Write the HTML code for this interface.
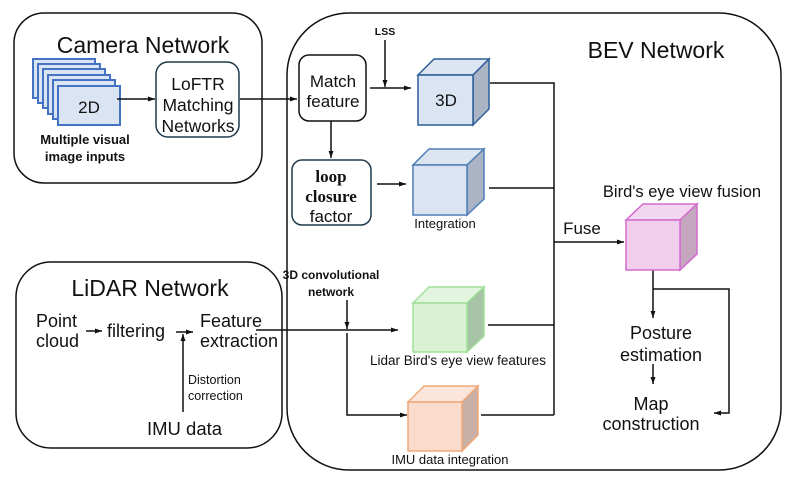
<!DOCTYPE html>
<html><head><meta charset="utf-8"><style>
html,body{margin:0;padding:0;background:#fff}
svg{display:block}
text{font-family:"Liberation Sans","DejaVu Sans",sans-serif;fill:#111}
</style></head><body>
<svg width="794" height="481" viewBox="0 0 794 481" xmlns="http://www.w3.org/2000/svg">
<defs>
<marker id="a" markerWidth="8" markerHeight="8" refX="7" refY="4" orient="auto" markerUnits="userSpaceOnUse">
<path d="M0,1.5 L7,4 L0,6.5 Z" fill="#111"/></marker>
</defs>
<rect x="14" y="13" width="248" height="170" rx="30" fill="none" stroke="#111" stroke-width="1.5"/>
<rect x="16" y="262" width="266" height="186" rx="35" fill="none" stroke="#111" stroke-width="1.5"/>
<rect x="287" y="13" width="494" height="457" rx="62" fill="none" stroke="#111" stroke-width="1.5"/>

<text x="143" y="53" font-size="23" text-anchor="middle">Camera Network</text>
<text x="150" y="296" font-size="23" text-anchor="middle">LiDAR Network</text>
<text x="656" y="58" font-size="23" text-anchor="middle">BEV Network</text>

<g fill="#dbe4f3" stroke="#4472c4" stroke-width="2">
<rect x="33" y="59" width="62" height="39"/>
<rect x="38" y="64" width="62" height="39"/>
<rect x="43" y="69" width="62" height="39"/>
<rect x="48" y="75" width="62" height="39"/>
<rect x="53" y="80" width="62" height="39"/>
<rect x="58" y="86" width="62" height="39"/>
</g>
<text x="89" y="113" font-size="17" text-anchor="middle">2D</text>
<text x="85" y="144" font-size="13" font-weight="bold" text-anchor="middle">Multiple visual</text>
<text x="85" y="161" font-size="13" font-weight="bold" text-anchor="middle">image inputs</text>

<rect x="156" y="62" width="83" height="75" rx="12" fill="none" stroke="#1f3b4d" stroke-width="1.5"/>
<text x="198" y="90" font-size="17.5" text-anchor="middle">LoFTR</text>
<text x="198" y="111" font-size="17.5" text-anchor="middle">Matching</text>
<text x="198" y="132" font-size="17.5" text-anchor="middle">Networks</text>

<g stroke="#111" stroke-width="1.5" fill="none">
<line x1="117" y1="99" x2="155" y2="99" marker-end="url(#a)"/>
<line x1="240" y1="99" x2="297" y2="99" marker-end="url(#a)"/>
<line x1="385" y1="40" x2="385" y2="87" marker-end="url(#a)"/>
<line x1="370" y1="88" x2="411" y2="88" marker-end="url(#a)"/>
<line x1="331" y1="121" x2="331" y2="158" marker-end="url(#a)"/>
<line x1="377" y1="184" x2="406" y2="184" marker-end="url(#a)"/>
<polyline points="490,83 554,83 554,415"/>
<line x1="489" y1="188" x2="554" y2="188"/>
<line x1="554" y1="242" x2="624" y2="242" marker-end="url(#a)"/>
<line x1="488" y1="325" x2="554" y2="325"/>
<line x1="481" y1="415" x2="554" y2="415"/>
<line x1="653" y1="270" x2="653" y2="318" marker-end="url(#a)"/>
<polyline points="653,289 729,289 729,413 714,413" marker-end="url(#a)"/>
<line x1="653" y1="364" x2="653" y2="384" marker-end="url(#a)"/>
<line x1="347" y1="300" x2="347" y2="329" marker-end="url(#a)"/>
<line x1="256" y1="330" x2="398" y2="330" marker-end="url(#a)"/>
<polyline points="347,333 347,415 407,415" marker-end="url(#a)"/>
<line x1="86" y1="331" x2="102" y2="331" marker-end="url(#a)"/>
<line x1="176" y1="332" x2="193" y2="332" marker-end="url(#a)"/>
<line x1="183" y1="412" x2="183" y2="334" marker-end="url(#a)"/>
</g>

<rect x="299" y="55" width="67" height="66" rx="10" fill="none" stroke="#111" stroke-width="1.5"/>
<text x="333" y="87" font-size="17" text-anchor="middle">Match</text>
<text x="333" y="107" font-size="17" text-anchor="middle">feature</text>
<text x="385" y="35" font-size="10.5" font-weight="bold" text-anchor="middle">LSS</text>

<rect x="292" y="160" width="79" height="65" rx="10" fill="none" stroke="#1f3b4d" stroke-width="1.5"/>
<text x="331" y="182" font-size="17" font-weight="bold" text-anchor="middle" style="font-family:'Liberation Serif',serif">loop</text>
<text x="331" y="202" font-size="17" font-weight="bold" text-anchor="middle" style="font-family:'Liberation Serif',serif">closure</text>
<text x="331" y="222" font-size="17" text-anchor="middle">factor</text>

<g stroke-width="1.5">
<g stroke="#2e5f9a"><polygon points="418,75 434,59 489,59 473,75" fill="#dde5f2"/><polygon points="473,75 489,59 489,109 473,125" fill="#aab4c4"/><rect x="418" y="75" width="55" height="50" fill="#dbe4f3"/></g>
<g stroke="#4f7fb8"><polygon points="413,165 429,149 484,149 467,165" fill="#dde5f2"/><polygon points="467,165 484,149 484,199 467,215" fill="#aab4c4"/><rect x="413" y="165" width="54" height="50" fill="#dbe4f3"/></g>
<g stroke="#d36bd0"><polygon points="626,220 643,204 697,204 680,220" fill="#f3d6ef"/><polygon points="680,220 697,204 697,254 680,270" fill="#c5a6bf"/><rect x="626" y="220" width="54" height="50" fill="#f1ceec"/></g>
<g stroke="#9fe09a"><polygon points="413,303 429,287 484,287 467,303" fill="#e2f5de"/><polygon points="467,303 484,287 484,336 467,352" fill="#a8c4a6"/><rect x="413" y="303" width="54" height="49" fill="#d9f2d3"/></g>
<g stroke="#f0a878"><polygon points="408,402 424,386 478,386 462,402" fill="#fce6db"/><polygon points="462,402 478,386 478,435 462,451" fill="#c8b0a6"/><rect x="408" y="402" width="54" height="49" fill="#fbdccc"/></g>
</g>
<text x="446" y="106" font-size="17" text-anchor="middle">3D</text>
<text x="445" y="228" font-size="13" text-anchor="middle">Integration</text>
<text x="458" y="365" font-size="13.5" text-anchor="middle">Lidar Bird's eye view features</text>
<text x="450" y="464" font-size="13" text-anchor="middle">IMU data integration</text>
<text x="582" y="234" font-size="17" text-anchor="middle">Fuse</text>
<text x="682" y="197" font-size="16.5" text-anchor="middle">Bird's eye view fusion</text>
<text x="661" y="339" font-size="18" text-anchor="middle">Posture</text>
<text x="661" y="361" font-size="18" text-anchor="middle">estimation</text>
<text x="651" y="410" font-size="18" text-anchor="middle">Map</text>
<text x="651" y="430" font-size="18" text-anchor="middle">construction</text>

<text x="331" y="279" font-size="12" font-weight="bold" text-anchor="middle">3D convolutional</text>
<text x="331" y="296" font-size="12" font-weight="bold" text-anchor="middle">network</text>

<text x="36" y="327" font-size="18">Point</text>
<text x="36" y="347" font-size="18">cloud</text>
<text x="107" y="337" font-size="18">filtering</text>
<text x="200" y="327" font-size="18">Feature</text>
<text x="200" y="347" font-size="18">extraction</text>
<text x="188" y="384" font-size="12.5">Distortion</text>
<text x="188" y="400" font-size="12.5">correction</text>
<text x="147" y="435" font-size="18.5">IMU data</text>
</svg>
</body></html>
